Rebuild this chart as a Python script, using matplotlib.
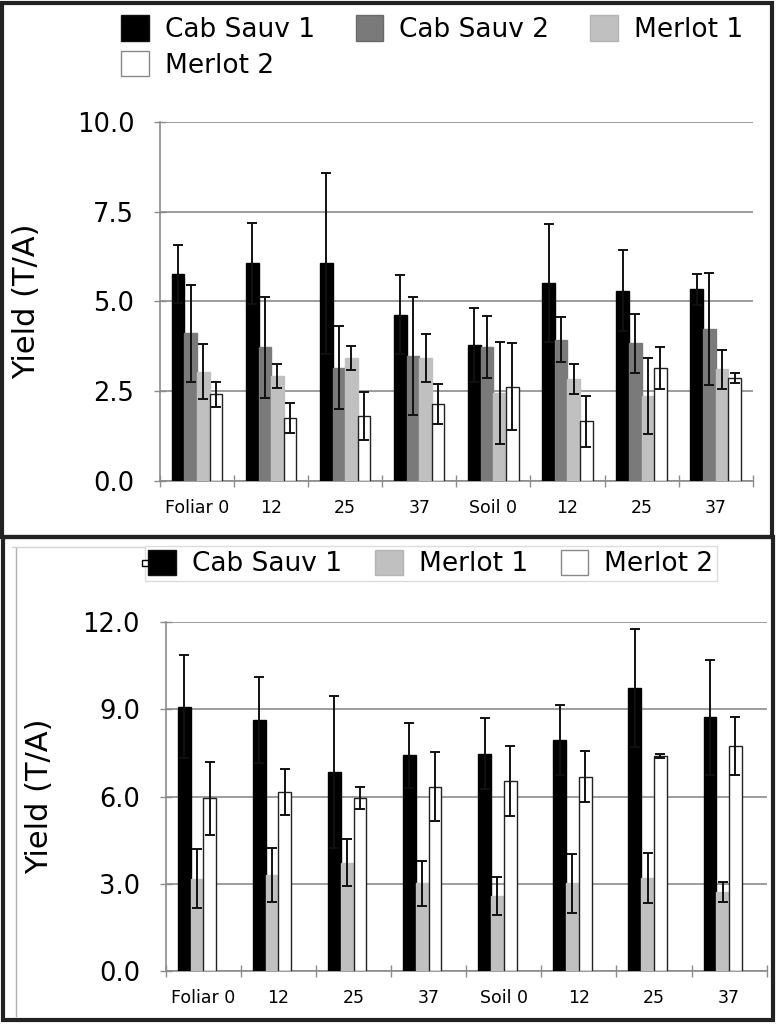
import matplotlib
matplotlib.use("Agg")
import matplotlib.pyplot as plt
import numpy as np
from matplotlib.patches import Rectangle, Patch
from matplotlib.lines import Line2D

# categories (x axis)
groups = ['Foliar 0', '12', '25', '37', 'Soil 0', '12', '25', '37']

# top chart - yield (T/A), 4 series with error bars
top_cs1 = [5.76, 6.06, 6.06, 4.63, 3.79, 5.51, 5.30, 5.34]
top_cs1_err = [0.81, 1.13, 2.51, 1.10, 1.02, 1.65, 1.13, 0.43]
top_cs2 = [4.11, 3.72, 3.16, 3.48, 3.74, 3.93, 3.83, 4.23]
top_cs2_err = [1.34, 1.40, 1.16, 1.65, 0.86, 0.63, 0.81, 1.57]
top_m1 = [3.04, 2.92, 3.43, 3.43, 2.44, 2.83, 2.37, 3.11]
top_m1_err = [0.77, 0.33, 0.34, 0.66, 1.42, 0.42, 1.05, 0.54]
top_m2 = [2.42, 1.75, 1.82, 2.14, 2.63, 1.66, 3.14, 2.86]
top_m2_err = [0.35, 0.42, 0.67, 0.55, 1.22, 0.72, 0.58, 0.14]

# bottom chart - 3 series (Cab Sauv 2 slot empty)
bot_cs1 = [9.10, 8.64, 6.85, 7.42, 7.48, 7.95, 9.73, 8.73]
bot_cs1_err = [1.78, 1.49, 2.61, 1.12, 1.23, 1.21, 2.03, 1.97]
bot_m1 = [3.17, 3.30, 3.73, 3.02, 2.58, 3.02, 3.21, 2.73]
bot_m1_err = [1.02, 0.94, 0.80, 0.78, 0.67, 1.01, 0.86, 0.34]
bot_m2 = [5.94, 6.16, 5.96, 6.34, 6.54, 6.69, 7.40, 7.74]
bot_m2_err = [1.26, 0.80, 0.38, 1.19, 1.20, 0.89, 0.08, 1.01]

top_ticks = [0.0, 2.5, 5.0, 7.5, 10.0]
bot_ticks = [0.0, 3.0, 6.0, 9.0, 12.0]

C_CS1 = 'black'
C_CS2 = '#7a7a7a'
C_M1 = '#c0c0c0'
C_M2 = 'white'

FONT = 'DejaVu Sans'

W = 0.17
x = np.arange(len(groups))


def style_axes(ax, ticks):
    ax.set_xlim(-0.5, len(groups) - 0.5)
    ax.set_ylim(ticks[0], ticks[-1])
    ax.set_yticks(ticks)
    ax.set_yticklabels([f'{t:.1f}' for t in ticks], fontsize=18.5, family=FONT)
    ax.tick_params(axis='y', direction='inout', length=9, width=1, color='#8c8c8c', pad=14)
    ax.set_xticks(x)
    ax.set_xticklabels(groups, fontsize=12.5, family=FONT)
    ax.tick_params(axis='x', which='major', length=0, pad=13)
    ax.set_xticks(np.arange(len(groups) + 1) - 0.5, minor=True)
    ax.tick_params(axis='x', which='minor', direction='inout', length=9, width=1, color='#8c8c8c')
    for s in ['top', 'right']:
        ax.spines[s].set_visible(False)
    for s in ['left', 'bottom']:
        ax.spines[s].set_color('#8c8c8c')
        ax.spines[s].set_linewidth(1.2)
    ax.yaxis.grid(True, color='#8c8c8c', linewidth=1.2)
    ax.set_axisbelow(True)
    ax.set_ylabel('Yield (T/A)', fontsize=22, family=FONT)


def draw_bars(ax, slot, vals, errs, color):
    edge = '#222222' if color == 'white' else color
    ax.bar(x + (slot - 1.5) * W, vals, W, color=color, edgecolor=edge, linewidth=1,
           yerr=errs, capsize=3.8, error_kw=dict(ecolor='#111111', elinewidth=1.4, capthick=1.4),
           zorder=3)


fig = plt.figure(figsize=(7.77, 10.24), dpi=100)

# top chart
ax1 = fig.add_axes([0.2059, 0.5303, 0.7628, 0.3506])
draw_bars(ax1, 0, top_cs1, top_cs1_err, C_CS1)
draw_bars(ax1, 1, top_cs2, top_cs2_err, C_CS2)
draw_bars(ax1, 2, top_m1, top_m1_err, C_M1)
draw_bars(ax1, 3, top_m2, top_m2_err, C_M2)
style_axes(ax1, top_ticks)
ax1.yaxis.set_label_coords(-0.2, 0.5)

h_cs1 = Patch(facecolor=C_CS1, edgecolor='#111111', label='Cab Sauv 1')
h_cs2 = Patch(facecolor=C_CS2, edgecolor='#6a6a6a', label='Cab Sauv 2')
h_m1 = Patch(facecolor=C_M1, edgecolor='#b4b4b4', label='Merlot 1')
h_m2 = Patch(facecolor=C_M2, edgecolor='#888888', label='Merlot 2')
leg_kw = dict(prop={'family': FONT, 'size': 19}, handlelength=1.05, handleheight=1.1,
              handletextpad=0.6)
leg1 = fig.legend(handles=[h_cs1, h_m2, h_cs2, h_m1], ncol=3, loc='upper left',
                  bbox_to_anchor=(0.156, 0.985), frameon=False,
                  columnspacing=1.55, labelspacing=0.3, borderpad=0.0, borderaxespad=0.0,
                  **leg_kw)

# bottom chart
ax2 = fig.add_axes([0.2133, 0.0518, 0.7734, 0.3405])
draw_bars(ax2, 0, bot_cs1, bot_cs1_err, C_CS1)
draw_bars(ax2, 1, bot_m1, bot_m1_err, C_M1)
draw_bars(ax2, 2, bot_m2, bot_m2_err, C_M2)
style_axes(ax2, bot_ticks)
ax2.yaxis.set_label_coords(-0.185, 0.5)

leg2 = fig.legend(handles=[h_cs1, h_m1, h_m2], ncol=3, loc='upper left',
                  bbox_to_anchor=(0.186, 0.467), frameon=True, fancybox=False,
                  edgecolor='#d4d4d4', columnspacing=1.25, borderpad=0.15,
                  borderaxespad=0.0, **leg_kw)
leg2.get_frame().set_linewidth(1.0)

# small marker sitting on the legend's left edge
fig.add_artist(Line2D([0.186], [0.4505], transform=fig.transFigure, marker='s',
                      markersize=4.5, markerfacecolor='white', markeredgecolor='black',
                      linestyle='none', zorder=10))

# panel frames
fig.add_artist(Rectangle((0.003, 0.476), 0.991, 0.521, transform=fig.transFigure,
                         fill=False, edgecolor='#222222', linewidth=3))
fig.add_artist(Rectangle((0.004, 0.004), 0.991, 0.472, transform=fig.transFigure,
                         fill=False, edgecolor='#222222', linewidth=3))
fig.add_artist(Line2D([0.021, 0.021], [0.008, 0.466], transform=fig.transFigure,
                      color='#b0b0b0', linewidth=1))
fig.add_artist(Line2D([0.016, 0.186], [0.466, 0.466], transform=fig.transFigure,
                      color='#d4d4d4', linewidth=1))

fig.savefig('out.png', dpi=100)
